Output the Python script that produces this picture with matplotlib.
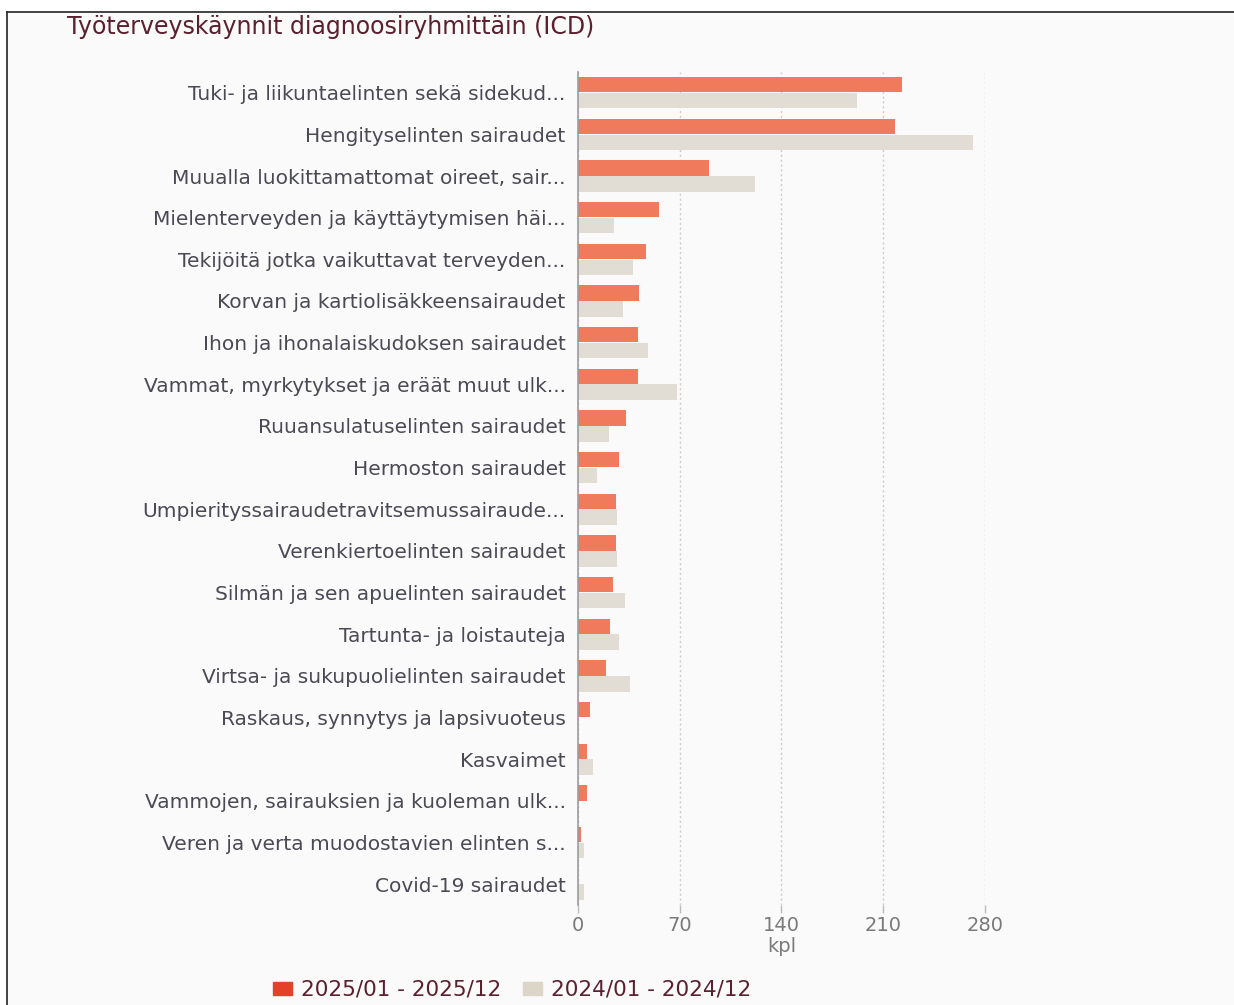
import numpy as np
import matplotlib.pyplot as plt
from matplotlib.patches import Rectangle
from matplotlib.lines import Line2D

# Categories (ICD diagnosis groups), top to bottom
categories = [
    "Tuki- ja liikuntaelinten sekä sidekud...",
    "Hengityselinten sairaudet",
    "Muualla luokittamattomat oireet, sair...",
    "Mielenterveyden ja käyttäytymisen häi...",
    "Tekijöitä jotka vaikuttavat terveyden...",
    "Korvan ja kartiolisäkkeensairaudet",
    "Ihon ja ihonalaiskudoksen sairaudet",
    "Vammat, myrkytykset ja eräät muut ulk...",
    "Ruuansulatuselinten sairaudet",
    "Hermoston sairaudet",
    "Umpierityssairaudetravitsemussairaude...",
    "Verenkiertoelinten sairaudet",
    "Silmän ja sen apuelinten sairaudet",
    "Tartunta- ja loistauteja",
    "Virtsa- ja sukupuolielinten sairaudet",
    "Raskaus, synnytys ja lapsivuoteus",
    "Kasvaimet",
    "Vammojen, sairauksien ja kuoleman ulk...",
    "Veren ja verta muodostavien elinten s...",
    "Covid-19 sairaudet",
]
visits_2025 = [223, 218, 90, 56, 47, 42, 41, 41, 33, 28, 26, 26, 24, 22, 19, 8, 6, 6, 2, 0]
visits_2024 = [192, 272, 122, 25, 38, 31, 48, 68, 21, 13, 27, 27, 32, 28, 36, 0, 10, 0, 4, 4]
x_ticks = [0, 70, 140, 210, 280]

label_2025 = "2025/01 - 2025/12"
label_2024 = "2024/01 - 2024/12"

red = "#f07a5c"
beige = "#e2ddd4"
maroon = "#5b1f2e"
bg = "#fbfafa"

plt.rcParams['font.family'] = ['DejaVu Sans']

fig = plt.figure(figsize=(12.34, 10.05), dpi=100, facecolor=bg)

# screenshot frame: white margin, black top and left lines
fig.patches.append(Rectangle((0, 0.988), 1, 0.012, transform=fig.transFigure, color="white", zorder=0))
fig.patches.append(Rectangle((0, 0), 0.006, 1, transform=fig.transFigure, color="white", zorder=0))
fig.lines.append(Line2D([0.006, 1], [0.988, 0.988], transform=fig.transFigure, color="#222222", lw=1.2))
fig.lines.append(Line2D([0.006, 0.006], [0, 0.988], transform=fig.transFigure, color="#222222", lw=1.2))

ax = fig.add_axes([0.4684, 0.0995, 0.3298, 0.8290])
ax.set_facecolor(bg)

y = np.arange(len(categories))
h = 0.37
ax.barh(y - 0.19, visits_2025, height=h, color=red, label=label_2025, zorder=3)
ax.barh(y + 0.19, visits_2024, height=h, color=beige, label=label_2024, zorder=3)

ax.set_ylim(len(categories) - 0.5, -0.5)
ax.set_xlim(0, 280)
ax.set_yticks(y)
ax.set_yticklabels(categories, fontsize=14.5, color="#4a4a55")
ax.tick_params(axis="y", length=0, pad=9)

ax.set_xticks(x_ticks)
ax.set_xticklabels([str(t) for t in x_ticks], fontsize=14, color="#7a7a7a")
ax.tick_params(axis="x", length=6, width=1, color="#bbbbbb", pad=2)
ax.set_xlabel("kpl", fontsize=14, color="#7a7a7a", labelpad=1)

ax.grid(axis="x", linestyle=(0, (1.5, 2)), color="#cccccc", lw=1, zorder=0)
for s in ["top", "right", "bottom"]:
    ax.spines[s].set_visible(False)
ax.spines["left"].set_color("#9a9aa0")
ax.spines["left"].set_linewidth(1.2)
ax.spines["left"].set_zorder(4)

fig.text(0.054, 0.966, "Työterveyskäynnit diagnoosiryhmittäin (ICD)", fontsize=17,
         color=maroon, ha="left", va="baseline")

handles = [Rectangle((0, 0), 1, 1, color="#e4412a"), Rectangle((0, 0), 1, 1, color="#dcd6c8")]
leg = fig.legend(handles, [label_2025, label_2024], loc="center", bbox_to_anchor=(0.415, 0.015),
                 ncol=2, frameon=False, fontsize=15.5, handlelength=0.9, handleheight=0.6,
                 handletextpad=0.4, columnspacing=1.0)
for t in leg.get_texts():
    t.set_color(maroon)

fig.savefig("out.png", dpi=100, facecolor=fig.get_facecolor())
